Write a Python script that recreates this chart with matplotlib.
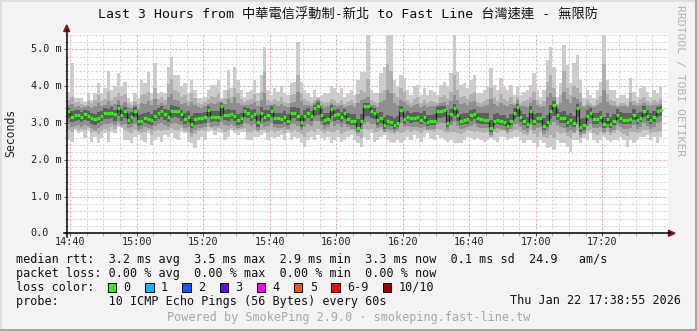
import numpy as np
import matplotlib
matplotlib.use("Agg")
import matplotlib.pyplot as plt
from matplotlib.lines import Line2D
from matplotlib.patches import Polygon, Rectangle
from matplotlib.ticker import MultipleLocator
import matplotlib.transforms as mtrans

# ---------------- data (ms), one value per minute starting 14:39 ----------------
first_minute = -1          # minutes relative to 14:40
median = [
    3.32, 3.17, 3.22, 3.22, 3.17, 3.24, 3.19, 3.12, 3.10, 3.14,
    3.19, 3.28, 3.26, 3.28, 3.24, 3.40, 3.22, 3.31, 3.08, 3.15,
    3.33, 3.05, 3.05, 3.12, 3.11, 3.08, 3.19, 3.26, 3.33, 3.24,
    3.15, 3.33, 3.33, 3.32, 3.24, 3.10, 3.17, 2.96, 3.10, 3.12,
    3.12, 3.15, 3.35, 3.17, 3.17,
    3.15, 3.47, 3.22, 3.22, 3.24, 3.19, 3.08, 3.12, 3.31, 3.28,
    3.19, 3.24, 3.03, 3.28, 3.15, 3.22, 3.33, 3.12, 3.12, 3.10,
    3.17, 3.06, 3.28, 3.28, 3.19, 3.03, 3.19, 3.28, 3.19, 3.40,
    3.47, 3.22, 3.08, 3.11, 3.37, 3.22, 3.24, 3.15, 3.26, 3.11,
    3.06, 3.06, 2.87, 3.06, 3.45,
    3.47, 3.33, 3.28, 3.08, 3.12, 2.94, 3.05, 3.03, 2.94, 2.99,
    3.35, 3.10, 3.17, 3.12, 3.14, 3.15, 3.08, 3.15, 3.03, 3.05,
    3.05, 3.31, 3.33, 3.35, 3.01, 3.24, 3.40, 3.22, 3.06, 3.08,
    3.11, 3.22, 3.24, 3.12, 3.11, 3.08, 3.08, 2.85, 3.05, 3.08,
    3.05, 3.03, 2.92, 3.05, 3.28,
    3.44, 3.17, 3.06, 2.97, 3.31, 3.06, 3.12, 3.12, 2.92, 3.03,
    3.31, 3.49, 3.22, 3.14, 3.14, 3.03, 3.08, 3.01, 3.40, 2.88,
    2.94, 3.19, 3.26, 3.11, 3.11, 3.15, 2.97, 3.10, 2.97, 3.05,
    3.22, 3.12, 3.08, 3.08, 3.11, 3.22, 3.08, 3.14, 3.33, 3.19,
    3.08, 3.15, 3.31, 3.35,
]
ping_max = [
    3.85, 4.62, 3.67, 3.67, 3.67, 3.58, 3.80, 3.62, 3.80, 4.08,
    3.80, 3.94, 4.42, 3.89, 3.99, 4.36, 3.99, 4.12, 3.67, 3.58,
    3.80, 3.67, 4.17, 4.08, 4.39, 3.80, 4.64, 3.80, 3.85, 3.80,
    4.53, 4.80, 4.30, 4.30, 3.99, 4.08, 3.80, 4.17, 3.89, 3.67,
    3.67, 3.71, 3.89, 4.03, 4.03,
    4.17, 3.67, 3.89, 4.44, 3.94, 4.53, 4.17, 3.89, 3.71, 3.85,
    3.89, 4.17, 3.80, 4.30, 5.07, 3.89, 3.76, 3.94, 3.85, 3.99,
    3.80, 3.76, 4.08, 4.12, 5.21, 4.12, 3.89, 3.80, 3.71, 3.89,
    3.71, 3.76, 3.80, 3.80, 3.99, 3.94, 3.80, 3.94, 3.71, 3.80,
    3.89, 3.76, 4.17, 4.39, 4.39,
    5.40, 3.89, 3.80, 3.80, 4.35, 4.53, 5.40, 5.40, 4.17, 3.99,
    4.30, 4.21, 3.89, 3.76, 3.99, 4.03, 3.76, 3.94, 3.76, 3.89,
    3.85, 3.76, 4.03, 4.12, 3.99, 4.35, 5.40, 4.39, 4.03, 4.08,
    3.94, 4.17, 4.30, 3.80, 3.80, 3.89, 3.99, 4.48, 4.03, 3.89,
    4.21, 3.99, 3.89, 4.03, 3.76,
    3.99, 3.76, 3.85, 3.89, 4.03, 4.35, 3.89, 3.71, 3.89, 4.71,
    5.07, 4.53, 3.71, 4.08, 5.12, 4.57, 4.08, 4.62, 4.85, 4.17,
    3.67, 3.89, 3.76, 3.67, 3.89, 4.12, 5.40, 4.17, 3.89, 3.89,
    3.67, 3.76, 3.76, 3.67, 4.21, 3.85, 3.71, 3.94, 3.99, 3.85,
    3.71, 3.89, 3.80, 3.99,
]
ping_9 = [
    3.62, 3.70, 3.55, 3.58, 3.52, 3.50, 3.60, 3.55, 3.62, 3.75,
    3.60, 3.66, 3.85, 3.62, 3.70, 3.80, 3.72, 3.78, 3.55, 3.50,
    3.60, 3.52, 3.75, 3.78, 3.85, 3.62, 3.95, 3.66, 3.70, 3.62,
    4.05, 4.20, 3.90, 3.85, 3.70, 3.75, 3.60, 3.82, 3.68, 3.55,
    3.52, 3.58, 3.66, 3.72, 3.70,
    3.80, 3.62, 3.68, 3.90, 3.70, 3.95, 3.80, 3.66, 3.58, 3.62,
    3.66, 3.78, 3.60, 3.85, 4.40, 3.62, 3.58, 3.66, 3.60, 3.70,
    3.58, 3.55, 3.75, 3.78, 4.30, 3.80, 3.66, 3.60, 3.55, 3.62,
    3.68, 3.60, 3.55, 3.58, 3.66, 3.62, 3.55, 3.62, 3.52, 3.58,
    3.62, 3.55, 3.78, 3.90, 3.85,
    4.20, 3.62, 3.58, 3.55, 3.80, 3.90, 4.60, 4.40, 3.80, 3.70,
    3.95, 3.85, 3.62, 3.55, 3.66, 3.70, 3.55, 3.62, 3.55, 3.60,
    3.58, 3.55, 3.70, 3.75, 3.66, 3.85, 4.30, 3.90, 3.70, 3.72,
    3.66, 3.78, 3.85, 3.58, 3.55, 3.60, 3.66, 3.95, 3.70, 3.60,
    3.78, 3.66, 3.60, 3.70, 3.55,
    3.70, 3.55, 3.60, 3.62, 3.70, 3.85, 3.62, 3.52, 3.60, 4.10,
    4.30, 3.95, 3.52, 3.75, 4.40, 3.95, 3.75, 4.00, 3.95, 3.80,
    3.50, 3.62, 3.55, 3.50, 3.62, 3.72, 4.60, 3.78, 3.62, 3.60,
    3.50, 3.55, 3.55, 3.50, 3.80, 3.60, 3.55, 3.66, 3.70, 3.60,
    3.55, 3.62, 3.58, 3.66,
]
ping_8 = [
    3.48, 3.52, 3.42, 3.45, 3.40, 3.42, 3.46, 3.40, 3.45, 3.55,
    3.46, 3.50, 3.60, 3.48, 3.52, 3.62, 3.50, 3.58, 3.42, 3.40,
    3.50, 3.38, 3.55, 3.52, 3.60, 3.48, 3.66, 3.50, 3.55, 3.48,
    3.70, 3.78, 3.62, 3.60, 3.52, 3.55, 3.45, 3.58, 3.48, 3.42,
    3.40, 3.45, 3.52, 3.55, 3.52,
    3.58, 3.58, 3.52, 3.66, 3.55, 3.70, 3.55, 3.48, 3.50, 3.48,
    3.52, 3.58, 3.45, 3.62, 3.80, 3.48, 3.50, 3.52, 3.46, 3.52,
    3.45, 3.42, 3.55, 3.58, 3.85, 3.60, 3.50, 3.48, 3.45, 3.55,
    3.62, 3.50, 3.42, 3.45, 3.55, 3.50, 3.45, 3.48, 3.42, 3.45,
    3.48, 3.42, 3.55, 3.62, 3.66,
    3.70, 3.50, 3.48, 3.42, 3.58, 3.62, 3.90, 3.80, 3.55, 3.50,
    3.62, 3.58, 3.48, 3.42, 3.50, 3.52, 3.42, 3.48, 3.42, 3.45,
    3.45, 3.48, 3.55, 3.58, 3.48, 3.60, 3.75, 3.62, 3.52, 3.55,
    3.50, 3.58, 3.60, 3.45, 3.42, 3.45, 3.50, 3.66, 3.52, 3.45,
    3.55, 3.50, 3.45, 3.52, 3.50,
    3.62, 3.45, 3.45, 3.42, 3.55, 3.62, 3.48, 3.42, 3.45, 3.70,
    3.80, 3.70, 3.45, 3.55, 3.85, 3.66, 3.55, 3.70, 3.66, 3.58,
    3.42, 3.50, 3.45, 3.42, 3.48, 3.55, 3.90, 3.58, 3.48, 3.45,
    3.42, 3.45, 3.45, 3.42, 3.58, 3.48, 3.45, 3.50, 3.55, 3.48,
    3.45, 3.50, 3.50, 3.52,
]
ping_7 = [
    3.40, 3.32, 3.34, 3.36, 3.30, 3.35, 3.33, 3.28, 3.25, 3.30,
    3.32, 3.40, 3.38, 3.42, 3.36, 3.48, 3.35, 3.42, 3.28, 3.30,
    3.42, 3.22, 3.24, 3.28, 3.30, 3.25, 3.35, 3.40, 3.45, 3.38,
    3.35, 3.48, 3.46, 3.42, 3.36, 3.28, 3.32, 3.20, 3.28, 3.26,
    3.28, 3.30, 3.45, 3.32, 3.33,
    3.32, 3.54, 3.36, 3.38, 3.36, 3.34, 3.25, 3.28, 3.42, 3.40,
    3.34, 3.38, 3.22, 3.42, 3.35, 3.36, 3.45, 3.28, 3.28, 3.26,
    3.32, 3.24, 3.42, 3.42, 3.40, 3.22, 3.34, 3.40, 3.32, 3.50,
    3.56, 3.38, 3.26, 3.28, 3.48, 3.36, 3.38, 3.30, 3.38, 3.28,
    3.25, 3.24, 3.10, 3.24, 3.55,
    3.55, 3.44, 3.40, 3.26, 3.30, 3.15, 3.22, 3.20, 3.12, 3.18,
    3.46, 3.28, 3.32, 3.28, 3.30, 3.30, 3.26, 3.32, 3.22, 3.22,
    3.24, 3.42, 3.45, 3.46, 3.22, 3.38, 3.52, 3.36, 3.25, 3.26,
    3.28, 3.36, 3.38, 3.28, 3.28, 3.26, 3.26, 3.08, 3.24, 3.26,
    3.22, 3.22, 3.12, 3.24, 3.40,
    3.52, 3.32, 3.24, 3.15, 3.45, 3.24, 3.28, 3.28, 3.12, 3.22,
    3.48, 3.60, 3.38, 3.30, 3.32, 3.22, 3.26, 3.20, 3.52, 3.10,
    3.14, 3.34, 3.40, 3.28, 3.28, 3.32, 3.16, 3.28, 3.16, 3.24,
    3.38, 3.30, 3.26, 3.26, 3.28, 3.38, 3.26, 3.30, 3.45, 3.36,
    3.26, 3.32, 3.44, 3.46,
]
ping_4 = [
    3.12, 3.02, 3.05, 3.08, 3.02, 3.08, 3.04, 2.98, 2.95, 3.00,
    3.05, 3.10, 3.10, 3.12, 3.06, 3.18, 3.06, 3.12, 2.96, 3.00,
    3.15, 2.92, 2.94, 3.00, 2.98, 2.95, 3.05, 3.10, 3.15, 3.08,
    3.02, 3.12, 3.15, 3.14, 3.06, 2.96, 3.02, 2.85, 2.95, 2.98,
    2.98, 3.00, 3.15, 3.02, 3.04,
    3.02, 3.20, 3.08, 3.06, 3.10, 3.04, 2.95, 2.98, 3.15, 3.12,
    3.04, 3.10, 2.90, 3.12, 3.02, 3.06, 3.15, 2.98, 2.98, 2.96,
    3.02, 2.94, 3.12, 3.12, 3.04, 2.90, 3.04, 3.12, 3.04, 3.20,
    3.22, 3.06, 2.95, 2.98, 3.18, 3.06, 3.08, 3.02, 3.10, 2.98,
    2.94, 2.94, 2.78, 2.94, 3.15,
    3.18, 3.12, 3.10, 2.95, 3.00, 2.84, 2.94, 2.92, 2.84, 2.88,
    3.15, 2.98, 3.04, 3.00, 3.02, 3.02, 2.96, 3.02, 2.92, 2.94,
    2.94, 3.12, 3.14, 3.15, 2.90, 3.06, 3.18, 3.06, 2.94, 2.96,
    2.98, 3.06, 3.10, 3.00, 2.98, 2.96, 2.96, 2.76, 2.94, 2.96,
    2.94, 2.92, 2.84, 2.94, 3.10,
    3.15, 3.02, 2.94, 2.85, 3.10, 2.94, 3.00, 3.00, 2.80, 2.90,
    3.10, 3.20, 3.08, 3.00, 3.00, 2.90, 2.94, 2.88, 3.15, 2.76,
    2.82, 3.06, 3.12, 2.98, 2.98, 3.02, 2.85, 2.98, 2.85, 2.94,
    3.08, 3.00, 2.96, 2.96, 2.98, 3.08, 2.96, 3.02, 3.15, 3.06,
    2.96, 3.02, 3.15, 3.18,
]
ping_3 = [
    2.98, 2.90, 2.92, 2.95, 2.90, 2.95, 2.92, 2.85, 2.82, 2.86,
    2.92, 2.96, 2.98, 3.00, 2.94, 3.02, 2.94, 2.98, 2.85, 2.88,
    2.98, 2.82, 2.84, 2.88, 2.86, 2.84, 2.92, 2.96, 3.00, 2.94,
    2.90, 2.98, 3.00, 2.98, 2.94, 2.85, 2.90, 2.72, 2.82, 2.86,
    2.86, 2.88, 3.00, 2.90, 2.92,
    2.92, 3.02, 2.94, 2.92, 2.98, 2.92, 2.85, 2.88, 3.00, 2.96,
    2.92, 2.96, 2.82, 2.98, 2.90, 2.92, 3.00, 2.88, 2.86, 2.86,
    2.90, 2.84, 2.98, 2.98, 2.92, 2.80, 2.90, 2.98, 2.92, 3.04,
    3.06, 2.94, 2.84, 2.88, 3.02, 2.92, 2.96, 2.90, 2.96, 2.88,
    2.84, 2.84, 2.72, 2.84, 2.98,
    3.02, 2.98, 2.96, 2.86, 2.88, 2.76, 2.84, 2.82, 2.76, 2.80,
    3.00, 2.88, 2.92, 2.88, 2.90, 2.90, 2.86, 2.90, 2.82, 2.84,
    2.84, 2.98, 3.00, 3.00, 2.80, 2.94, 3.02, 2.92, 2.84, 2.86,
    2.88, 2.92, 2.96, 2.88, 2.86, 2.86, 2.86, 2.68, 2.84, 2.86,
    2.84, 2.82, 2.76, 2.84, 2.96,
    2.98, 2.88, 2.82, 2.74, 2.96, 2.82, 2.86, 2.88, 2.70, 2.78,
    2.94, 3.02, 2.94, 2.88, 2.86, 2.76, 2.82, 2.76, 2.98, 2.66,
    2.72, 2.92, 2.98, 2.86, 2.86, 2.90, 2.74, 2.86, 2.74, 2.82,
    2.94, 2.88, 2.84, 2.84, 2.86, 2.94, 2.84, 2.90, 3.00, 2.92,
    2.84, 2.90, 3.00, 3.02,
]
ping_2 = [
    2.82, 2.75, 2.85, 2.82, 2.84, 2.80, 2.86, 2.72, 2.74, 2.70,
    2.78, 2.84, 2.78, 2.88, 2.84, 2.95, 2.90, 2.80, 2.74, 2.72,
    2.82, 2.76, 2.72, 2.74, 2.80, 2.68, 2.78, 2.80, 2.78, 2.82,
    2.80, 2.85, 2.82, 2.80, 2.86, 2.78, 2.74, 2.62, 2.70, 2.78,
    2.80, 2.78, 2.88, 2.86, 2.82,
    2.86, 2.84, 2.76, 2.80, 2.86, 2.82, 2.80, 2.84, 2.86, 2.74,
    2.74, 2.80, 2.76, 2.80, 2.82, 2.74, 2.80, 2.76, 2.78, 2.80,
    2.72, 2.82, 2.76, 2.80, 2.76, 2.70, 2.62, 2.74, 2.80, 2.76,
    2.84, 2.78, 2.72, 2.78, 2.74, 2.76, 2.80, 2.70, 2.74, 2.78,
    2.80, 2.74, 2.64, 2.60, 2.84,
    2.80, 2.84, 2.76, 2.74, 2.80, 2.78, 2.74, 2.72, 2.70, 2.76,
    2.72, 2.74, 2.80, 2.76, 2.82, 2.78, 2.72, 2.80, 2.82, 2.78,
    2.76, 2.84, 2.80, 2.76, 2.72, 2.76, 2.74, 2.72, 2.70, 2.76,
    2.80, 2.78, 2.76, 2.78, 2.76, 2.72, 2.76, 2.62, 2.74, 2.72,
    2.78, 2.78, 2.70, 2.76, 2.80,
    2.80, 2.76, 2.70, 2.66, 2.80, 2.70, 2.62, 2.74, 2.62, 2.60,
    2.66, 2.60, 2.76, 2.70, 2.72, 2.64, 2.58, 2.72, 2.78, 2.60,
    2.70, 2.78, 2.82, 2.72, 2.68, 2.74, 2.70, 2.74, 2.68, 2.72,
    2.80, 2.76, 2.70, 2.64, 2.74, 2.76, 2.72, 2.76, 2.80, 2.80,
    2.72, 2.76, 2.74, 2.78,
]
ping_min = [
    2.54, 2.49, 2.81, 2.72, 2.76, 2.58, 2.81, 2.49, 2.63, 2.45,
    2.58, 2.72, 2.49, 2.76, 2.72, 2.90, 2.85, 2.54, 2.54, 2.45,
    2.63, 2.67, 2.54, 2.49, 2.72, 2.40, 2.54, 2.63, 2.49, 2.67,
    2.63, 2.72, 2.58, 2.54, 2.76, 2.72, 2.49, 2.45, 2.31, 2.54,
    2.63, 2.54, 2.76, 2.81, 2.67,
    2.76, 2.72, 2.54, 2.63, 2.81, 2.72, 2.67, 2.76, 2.76, 2.54,
    2.54, 2.63, 2.63, 2.67, 2.72, 2.54, 2.63, 2.58, 2.63, 2.67,
    2.54, 2.72, 2.54, 2.63, 2.58, 2.45, 2.35, 2.54, 2.63, 2.54,
    2.67, 2.58, 2.54, 2.63, 2.45, 2.54, 2.63, 2.49, 2.54, 2.63,
    2.67, 2.54, 2.45, 2.35, 2.63,
    2.54, 2.72, 2.49, 2.54, 2.63, 2.67, 2.54, 2.49, 2.45, 2.54,
    2.45, 2.54, 2.63, 2.54, 2.67, 2.58, 2.49, 2.63, 2.72, 2.58,
    2.54, 2.67, 2.58, 2.54, 2.49, 2.54, 2.45, 2.45, 2.45, 2.54,
    2.63, 2.58, 2.54, 2.58, 2.54, 2.49, 2.54, 2.58, 2.54, 2.49,
    2.63, 2.63, 2.54, 2.58, 2.63,
    2.63, 2.54, 2.45, 2.54, 2.54, 2.45, 2.35, 2.54, 2.45, 2.31,
    2.35, 2.26, 2.54, 2.45, 2.45, 2.35, 2.22, 2.54, 2.54, 2.45,
    2.58, 2.54, 2.72, 2.54, 2.45, 2.54, 2.63, 2.54, 2.49, 2.54,
    2.54, 2.63, 2.54, 2.35, 2.54, 2.45, 2.54, 2.63, 2.63, 2.67,
    2.54, 2.63, 2.45, 2.63,
]

xtick_minutes = [0, 20, 40, 60, 80, 100, 120, 140, 160]
xtick_labels = ["14:40", "15:00", "15:20", "15:40", "16:00", "16:20", "16:40", "17:00", "17:20"]
ytick_values = [0, 1, 2, 3, 4, 5]
ytick_labels = ["0.0", "1.0 m", "2.0 m", "3.0 m", "4.0 m", "5.0 m"]

title = "Last 3 Hours from 中華電信浮動制-新北 to Fast Line 台灣速連 - 無限防"
legend_lines = [
    "median rtt:  3.2 ms avg  3.5 ms max  2.9 ms min  3.3 ms now  0.1 ms sd  24.9   am/s",
    "packet loss: 0.00 % avg  0.00 % max  0.00 % min  0.00 % now",
    "loss color:",
    "probe:       10 ICMP Echo Pings (56 Bytes) every 60s",
]
loss_labels = ["0", "1", "2", "3", "4", "5", "6-9", "10/10"]
loss_colors = ["#26ff00", "#00b8ff", "#0059ff", "#6a00ff", "#ff00ff", "#ff5500", "#ff0000", "#a10000"]
timestamp = "Thu Jan 22 17:38:55 2026"
footer = "Powered by SmokePing 2.9.0 · smokeping.fast-line.tw"
watermark = "RRDTOOL / TOBI OETIKER"

# ---------------- layout ----------------
W, H, DPI = 697, 331, 100
BG = "#f3f3f3"
MONO = "DejaVu Sans Mono"
MONO_CJK = ["DejaVu Sans Mono", "Noto Sans CJK TC"]

def fx(x):
    return x / W

def fy(y):
    return 1 - y / H

ax_l, ax_r, ax_t, ax_b = 66.7, 668.0, 33.0, 233.3

fig = plt.figure(figsize=(W / DPI, H / DPI), dpi=DPI, facecolor=BG)
ax = fig.add_axes([fx(ax_l), fy(ax_b), (ax_r - ax_l) / W, (ax_b - ax_t) / H])
ax.set_facecolor("white")
ax.set_xlim(-1.05, 179.75)
ax.set_ylim(0, 5.443)
for s in ax.spines.values():
    s.set_visible(False)

ax.xaxis.set_major_locator(MultipleLocator(20))
ax.xaxis.set_minor_locator(MultipleLocator(5))
ax.yaxis.set_major_locator(MultipleLocator(1))
ax.yaxis.set_minor_locator(MultipleLocator(0.2))
ax.set_axisbelow(True)
ax.grid(which="minor", color="#d2d2d2", lw=0.72, ls=(0, (2, 2)))
ax.grid(which="major", color="#eca3a3", lw=0.72, ls=(0, (2, 2)))
ax.tick_params(which="major", length=2.5, width=0.7, color="#444444",
               labelbottom=False, labelleft=False)
ax.tick_params(which="minor", length=1.8, width=0.7, color="#aaaaaa")

# ---------------- smoke ----------------
n = len(median)
edges = np.arange(n + 1) + first_minute
bands = [
    (ping_min, ping_max, "#cccccc"),
    (ping_2, ping_9, "#afafaf"),
    (ping_3, ping_8, "#8e8e8e"),
    (ping_4, ping_7, "#5f5f5f"),
]
for lo, hi, col in bands:
    ax.stairs(hi, edges, baseline=lo, fill=True, color=col, lw=0)

ax.stairs(median, edges, baseline=None, color="#222222", lw=0.9)
ax.hlines(median, edges[:-1], edges[1:], colors="#26ff00", lw=2.3, capstyle="butt")

# ---------------- tick labels ----------------
tx = mtrans.blended_transform_factory(ax.transData, fig.transFigure)
for m, lab in zip(xtick_minutes, xtick_labels):
    ax.text(m, fy(242.3), lab, transform=tx, ha="center", va="center",
            family=MONO, fontsize=7.3, color="#222222")
ty = mtrans.blended_transform_factory(fig.transFigure, ax.transData)
for v, lab in zip(ytick_values, ytick_labels):
    ax.text(fx(30.5), v, lab, transform=ty, ha="left", va="center",
            family=MONO, fontsize=7.3, color="#222222")

fig.text(fx(10.7), fy(132.5), "Seconds", rotation=90, ha="center", va="center",
         family=MONO, fontsize=8.3, color="#222222")

# ---------------- axes with arrows ----------------
fig.add_artist(Line2D([fx(63.5), fx(670)], [fy(ax_b), fy(ax_b)], color="black", lw=1.1))
fig.add_artist(Line2D([fx(ax_l), fx(ax_l)], [fy(236.5), fy(30)], color="black", lw=1.1))
fig.add_artist(Polygon([(fx(668.5), fy(ax_b - 3)), (fx(675), fy(ax_b)), (fx(668.5), fy(ax_b + 3))],
                       closed=True, color="#8b1010", transform=fig.transFigure))
fig.add_artist(Polygon([(fx(ax_l - 3), fy(31.5)), (fx(ax_l), fy(25)), (fx(ax_l + 3), fy(31.5))],
                       closed=True, color="#8b1010", transform=fig.transFigure))

# ---------------- title / watermark ----------------
fig.text(fx(348.5), fy(15), title, ha="center", va="center", family=MONO_CJK,
         fontsize=9.5, color="#111111")
fig.text(fx(680.5), fy(81), watermark, rotation=270, ha="center", va="center",
         family=MONO, fontsize=8.2, color="#b0b0b0")

# ---------------- legend ----------------
LEG_FS = 8.5
pitch = 0.602 * LEG_FS * DPI / 72
row_y = [259.7, 273.3, 287.3, 301.0]
for txt, y in zip(legend_lines, row_y):
    fig.text(fx(16.4), fy(y), txt, ha="left", va="center", family=MONO,
             fontsize=LEG_FS, color="#111111")
fig.text(fx(680.5), fy(row_y[3]), timestamp, ha="right", va="center", family=MONO,
         fontsize=LEG_FS, color="#111111")

bx = 108.0
box_w, box_h = 8.4, 9.0
for lab, col in zip(loss_labels, loss_colors):
    fig.add_artist(Rectangle((fx(bx), fy(row_y[2] + box_h / 2)), box_w / W, box_h / H,
                             transform=fig.transFigure, facecolor=col,
                             edgecolor="black", lw=0.7))
    fig.text(fx(bx + box_w + 7.2), fy(row_y[2]), lab, ha="left", va="center",
             family=MONO, fontsize=LEG_FS, color="#111111")
    bx += box_w + 7.2 + len(lab) * pitch + 14.5

fig.text(fx(348.5), fy(317.7), footer, ha="center", va="center", family=MONO,
         fontsize=LEG_FS, color="#a8a8a8")

# ---------------- 3D border ----------------
fig.add_artist(Rectangle((0, fy(2)), 1, 2 / H, transform=fig.transFigure, color="#dedede", lw=0))
fig.add_artist(Rectangle((0, 0), 2 / W, 1, transform=fig.transFigure, color="#dedede", lw=0))
fig.add_artist(Rectangle((0, 0), 1, 2 / H, transform=fig.transFigure, color="#a4a4a4", lw=0))
fig.add_artist(Rectangle((fx(695), 0), 2 / W, 1, transform=fig.transFigure, color="#a4a4a4", lw=0))

fig.savefig("out.png", dpi=DPI, facecolor=BG)
